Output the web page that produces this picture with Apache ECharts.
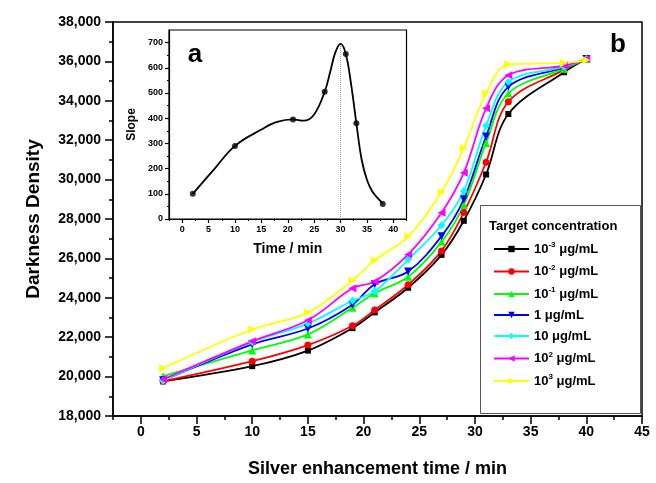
<!DOCTYPE html>
<html><head><meta charset="utf-8">
<script src="https://cdn.jsdelivr.net/npm/echarts@6/dist/echarts.min.js"></script>
<style>html,body{margin:0;padding:0;background:#fff}#c{width:656px;height:483px}</style>
</head><body><div id="c"></div>
<script>
// ---- data ----
const times = [2, 10, 15, 19, 21, 24, 27, 29, 31, 33, 38, 40];
const seriesNames = ['10^-3 μg/mL', '10^-2 μg/mL', '10^-1 μg/mL', '1 μg/mL', '10 μg/mL', '10^2 μg/mL', '10^3 μg/mL'];
const conc1e_3 = [19760, 20530, 21320, 22460, 23260, 24510, 26180, 27910, 30260, 33330, 35450, 36120];
const conc1e_2 = [19760, 20780, 21600, 22580, 23380, 24660, 26380, 28330, 30880, 33950, 35570, 36120];
const conc1e_1 = [20020, 21330, 22140, 23490, 24230, 25070, 26840, 28710, 31860, 34380, 35630, 36120];
const conc1e0  = [19810, 21640, 22440, 23650, 24690, 25330, 27130, 29000, 32190, 34710, 35690, 36120];
const conc1e1  = [19790, 21760, 22690, 23850, 24330, 25940, 27680, 29410, 32730, 34960, 35730, 36120];
const conc1e2  = [19860, 21790, 22860, 24480, 24830, 26200, 28320, 30350, 33620, 35300, 35790, 36120];
const conc1e3  = [20430, 22390, 23250, 24880, 25900, 27110, 29370, 31600, 34380, 35850, 35920, 36070];
const xTicks = [0, 5, 10, 15, 20, 25, 30, 35, 40, 45];
const xMinorTicks = [-2.5, 2.5, 7.5, 12.5, 17.5, 22.5, 27.5, 32.5, 37.5, 42.5];
const insetXTicks = [0, 5, 10, 15, 20, 25, 30, 35, 40];
const insetXMinor = [-2.5, 2.5, 7.5, 12.5, 17.5, 22.5, 27.5, 32.5, 37.5, 42.5];
const insetYTicks = [0, 100, 200, 300, 400, 500, 600, 700];
const insetYMinor = [50, 150, 250, 350, 450, 550, 650];
const insetTimes = [2, 10, 21, 27, 31, 33, 38];
const insetSlope = [100, 290, 395, 505, 655, 380, 60];
// fitted curve as drawn in the inset
const curveX = [2, 6, 10, 15, 18, 21, 23, 25, 27, 28, 29, 30, 31, 32, 33, 34, 35, 36, 37, 38];
const curveY = [100, 196, 290, 355, 385, 395, 390, 415, 505, 580, 660, 695, 655, 535, 380, 236, 156, 110, 84, 62];
const peakX = 30, peakY = 695;

const FF = "'Liberation Sans', Arial, sans-serif";
const colors = ['#000000', '#ff0000', '#00ff00', '#0000ff', '#00ffff', '#ff00ff', '#ffff00'];
const symbols = ['rect', 'circle', 'triangle', 'triangle', 'diamond', 'triangle', 'triangle'];
const rotations = [0, 0, 0, 180, 0, 90, -90];
const sizes = [6, 7, 8, 8, 8, 8, 8];
const allData = [conc1e_3, conc1e_2, conc1e_1, conc1e0, conc1e1, conc1e2, conc1e3];

const chart = echarts.init(document.getElementById('c'), null, {renderer: 'canvas'});
const axisLineStyle = {color: '#000', width: 1.5};
const mainSeries = allData.map((d, i) => ({
  name: seriesNames[i], type: 'line', xAxisIndex: 0, yAxisIndex: 0,
  data: times.map((t, j) => [t, d[j]]),
  smooth: 0.35, symbol: symbols[i], symbolRotate: rotations[i], symbolSize: sizes[i],
  itemStyle: {color: colors[i]}, lineStyle: {color: colors[i], width: 1.8},
  z: 3
}));

chart.setOption({
  animation: false,
  backgroundColor: '#fff',
  textStyle: {fontFamily: FF},
  grid: [
    {left: 113, right: 14, top: 22, bottom: 65, show: true, borderColor: '#000', borderWidth: 1.5, backgroundColor: 'transparent'},
    {left: 169, width: 237.5, top: 30, height: 189, show: true, borderColor: '#000', borderWidth: 1.2, backgroundColor: '#fff', z: 5}
  ],
  xAxis: [
    {gridIndex: 0, type: 'value', min: -2.5, max: 45, position: 'bottom', splitLine: {show: false},
     axisLine: {onZero: false, lineStyle: axisLineStyle}, axisTick: {length: 8, lineStyle: axisLineStyle, customValues: xTicks},
     axisLabel: {customValues: xTicks, color: '#000', fontSize: 14, fontWeight: 'bold', fontFamily: FF, margin: 9},
     name: 'Silver enhancement time / min', nameLocation: 'middle', nameGap: 44,
     nameTextStyle: {color: '#000', fontSize: 18, fontWeight: 'bold', fontFamily: FF}},
    {gridIndex: 0, type: 'value', min: -2.5, max: 45, position: 'bottom', splitLine: {show: false},
     axisLine: {show: false, onZero: false}, axisLabel: {show: false},
     axisTick: {length: 4, lineStyle: axisLineStyle, customValues: xMinorTicks}},
    {gridIndex: 1, type: 'value', min: -2.5, max: 42.5, position: 'bottom', splitLine: {show: false},
     axisLine: {onZero: false, lineStyle: {color: '#000', width: 1.2}}, axisTick: {length: 4, lineStyle: {color: '#000', width: 1.2}, customValues: insetXTicks},
     axisLabel: {customValues: insetXTicks, color: '#000', fontSize: 9, fontWeight: 'bold', fontFamily: FF, margin: 6},
     name: 'Time / min', nameLocation: 'middle', nameGap: 23,
     nameTextStyle: {color: '#000', fontSize: 14, fontWeight: 'bold', fontFamily: FF}, z: 6},
    {gridIndex: 1, type: 'value', min: -2.5, max: 42.5, position: 'bottom', splitLine: {show: false},
     axisLine: {show: false, onZero: false}, axisLabel: {show: false},
     axisTick: {length: 2, lineStyle: {color: '#000', width: 1}, customValues: insetXMinor}, z: 6}
  ],
  yAxis: [
    {gridIndex: 0, type: 'value', min: 18000, max: 38000, interval: 2000, position: 'left', splitLine: {show: false},
     axisLine: {onZero: false, lineStyle: axisLineStyle}, axisTick: {length: 8, lineStyle: axisLineStyle},
     minorTick: {show: true, splitNumber: 2, length: 4, lineStyle: axisLineStyle},
     axisLabel: {color: '#000', fontSize: 14, fontWeight: 'bold', fontFamily: FF, margin: 12},
     name: 'Darkness Density', nameLocation: 'middle', nameGap: 70, nameRotate: 90,
     nameTextStyle: {color: '#000', fontSize: 19, fontWeight: 'bold', fontFamily: FF}},
    {gridIndex: 1, type: 'value', min: 0, max: 750, position: 'left', splitLine: {show: false},
     axisLine: {onZero: false, lineStyle: {color: '#000', width: 1.2}}, axisTick: {length: 4, lineStyle: {color: '#000', width: 1.2}, customValues: insetYTicks},
     axisLabel: {customValues: insetYTicks, color: '#000', fontSize: 9, fontWeight: 'bold', fontFamily: FF, margin: 6},
     name: 'Slope', nameLocation: 'middle', nameGap: 31, nameRotate: 90,
     nameTextStyle: {color: '#000', fontSize: 12, fontWeight: 'bold', fontFamily: FF}, z: 6},
    {gridIndex: 1, type: 'value', min: 0, max: 750, position: 'left', offset: 0, splitLine: {show: false},
     axisLine: {show: false, onZero: false}, axisLabel: {show: false},
     axisTick: {length: 2, lineStyle: {color: '#000', width: 1}, customValues: insetYMinor}, z: 6}
  ],
  legend: {
    data: seriesNames, orient: 'vertical', left: 488, top: 236,
    itemWidth: 35, itemHeight: 8, itemGap: 8,
    formatter: n => {
      const m = n.match(/^10\^(\S+) (.*)$/);
      return m ? '{b|10}{s|' + m[1] + '}{b| ' + m[2] + '}' : '{b|' + n + '}';
    },
    textStyle: {
      color: '#000', fontFamily: FF,
      rich: {
        b: {fontSize: 13, fontWeight: 'bold', fontFamily: FF, color: '#000', lineHeight: 16},
        s: {fontSize: 8, fontWeight: 'bold', fontFamily: FF, color: '#000', lineHeight: 8, verticalAlign: 'top'}
      }
    }
  },
  graphic: [
    {type: 'rect', z: 1, shape: {x: 480.5, y: 205.5, width: 160, height: 208},
     style: {fill: '#fff', stroke: '#555', lineWidth: 1}},
    {type: 'text', z: 10, x: 489, y: 226,
     style: {text: 'Target concentration', font: "bold 13px 'Liberation Sans', Arial, sans-serif", fill: '#000', verticalAlign: 'middle'}},
    {type: 'text', z: 10, x: 195, y: 55,
     style: {text: 'a', font: "bold 26px 'Liberation Sans', Arial, sans-serif", fill: '#000', align: 'center', verticalAlign: 'middle'}},
    {type: 'text', z: 10, x: 618, y: 45,
     style: {text: 'b', font: "bold 26px 'Liberation Sans', Arial, sans-serif", fill: '#000', align: 'center', verticalAlign: 'middle'}}
  ],
  series: mainSeries.concat([
    {name: 'fit', type: 'line', xAxisIndex: 2, yAxisIndex: 1, z: 8,
     data: curveX.map((x, i) => [x, curveY[i]]), smooth: 0.4, symbol: 'none',
     lineStyle: {color: '#000', width: 1.8},
     markLine: {silent: true, symbol: 'none', label: {show: false},
       lineStyle: {color: '#999', type: 'dotted', width: 1},
       data: [[{coord: [peakX, 0]}, {coord: [peakX, peakY]}]]}},
    {name: 'slope', type: 'scatter', xAxisIndex: 2, yAxisIndex: 1, z: 9,
     data: insetTimes.map((x, i) => [x, insetSlope[i]]), symbol: 'circle', symbolSize: 6,
     itemStyle: {color: '#000'}}
  ])
});
</script></body></html>
